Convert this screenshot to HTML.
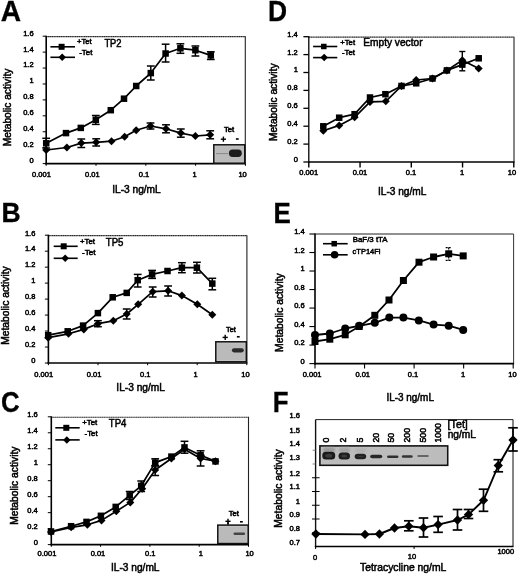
<!DOCTYPE html>
<html><head><meta charset="utf-8"><style>html,body{margin:0;padding:0;background:#fff;width:520px;height:575px;overflow:hidden}svg{display:block;filter:blur(0.4px)}</style></head><body>
<svg width="520" height="575" viewBox="0 0 520 575" font-family='"Liberation Sans", sans-serif' fill="#000">
<style>text{stroke:#000;stroke-width:0.5px;paint-order:stroke}text[font-weight=bold]{stroke-width:0.3px}</style>
<rect width="520" height="575" fill="#fff"/>
<text x="0" y="0" font-size="28.582" font-weight="bold" transform="translate(0.85,21.20) scale(0.984,1)">A</text>
<line x1="46.20" y1="36.60" x2="245.30" y2="36.60" stroke="#2a2a2a" stroke-width="1.1" stroke-dasharray="1.5 0.3"/>
<line x1="245.30" y1="36.20" x2="245.30" y2="163.60" stroke="#222" stroke-width="1.1" />
<line x1="46.20" y1="35.70" x2="46.20" y2="164.40" stroke="#000" stroke-width="1.6" />
<line x1="45.40" y1="163.60" x2="245.80" y2="163.60" stroke="#000" stroke-width="1.6" />
<line x1="42.70" y1="163.60" x2="46.20" y2="163.60" stroke="#000" stroke-width="1.0" />
<line x1="42.70" y1="147.67" x2="46.20" y2="147.67" stroke="#000" stroke-width="1.0" />
<line x1="42.70" y1="131.75" x2="46.20" y2="131.75" stroke="#000" stroke-width="1.0" />
<line x1="42.70" y1="115.82" x2="46.20" y2="115.82" stroke="#000" stroke-width="1.0" />
<line x1="42.70" y1="99.90" x2="46.20" y2="99.90" stroke="#000" stroke-width="1.0" />
<line x1="42.70" y1="83.97" x2="46.20" y2="83.97" stroke="#000" stroke-width="1.0" />
<line x1="42.70" y1="68.05" x2="46.20" y2="68.05" stroke="#000" stroke-width="1.0" />
<line x1="42.70" y1="52.12" x2="46.20" y2="52.12" stroke="#000" stroke-width="1.0" />
<line x1="42.70" y1="36.20" x2="46.20" y2="36.20" stroke="#000" stroke-width="1.0" />
<text x="33.60" y="163.00" font-size="7.5" text-anchor="end" font-weight="normal" >0</text>
<text x="33.60" y="147.07" font-size="7.5" text-anchor="end" font-weight="normal" >0.2</text>
<text x="33.60" y="131.15" font-size="7.5" text-anchor="end" font-weight="normal" >0.4</text>
<text x="33.60" y="115.22" font-size="7.5" text-anchor="end" font-weight="normal" >0.6</text>
<text x="33.60" y="99.30" font-size="7.5" text-anchor="end" font-weight="normal" >0.8</text>
<text x="33.60" y="83.38" font-size="7.5" text-anchor="end" font-weight="normal" >1</text>
<text x="33.60" y="67.45" font-size="7.5" text-anchor="end" font-weight="normal" >1.2</text>
<text x="33.60" y="51.53" font-size="7.5" text-anchor="end" font-weight="normal" >1.4</text>
<text x="33.60" y="35.60" font-size="7.5" text-anchor="end" font-weight="normal" >1.6</text>
<line x1="46.20" y1="163.60" x2="46.20" y2="165.80" stroke="#000" stroke-width="1.0" />
<text x="41.50" y="176.90" font-size="7.5" text-anchor="middle" font-weight="normal" >0.001</text>
<line x1="96.00" y1="163.60" x2="96.00" y2="165.80" stroke="#000" stroke-width="1.0" />
<text x="92.30" y="176.90" font-size="7.5" text-anchor="middle" font-weight="normal" >0.01</text>
<line x1="145.80" y1="163.60" x2="145.80" y2="165.80" stroke="#000" stroke-width="1.0" />
<text x="144.00" y="176.90" font-size="7.5" text-anchor="middle" font-weight="normal" >0.1</text>
<line x1="195.60" y1="163.60" x2="195.60" y2="165.80" stroke="#000" stroke-width="1.0" />
<text x="194.60" y="176.90" font-size="7.5" text-anchor="middle" font-weight="normal" >1</text>
<line x1="245.40" y1="163.60" x2="245.40" y2="165.80" stroke="#000" stroke-width="1.0" />
<text x="242.60" y="176.90" font-size="7.5" text-anchor="middle" font-weight="normal" >10</text>
<text x="0" y="0" font-size="10.100" font-weight="normal" transform="translate(112.16,192.60) scale(1.006,1)">IL-3 ng/mL</text>
<text x="0" y="0" font-size="10.100" font-weight="normal" transform="translate(10.50,146.24) rotate(-90) scale(1.010,1)">Metabolic activity</text>
<line x1="50.40" y1="46.80" x2="75.00" y2="46.80" stroke="#000" stroke-width="1.6" />
<rect x="58.60" y="43.80" width="6" height="6" fill="#000"/>
<line x1="50.40" y1="57.30" x2="75.00" y2="57.30" stroke="#000" stroke-width="1.6" />
<path d="M62.20 53.55L65.95 57.30L62.20 61.05L58.45 57.30Z" fill="#000"/>
<text x="0" y="0" font-size="7.300" font-weight="normal" transform="translate(77.02,44.10) scale(1.046,1)">+Tet</text>
<text x="0" y="0" font-size="7.300" font-weight="normal" transform="translate(79.25,54.90) scale(1.077,1)">-Tet</text>
<text x="0" y="0" font-size="10.000" font-weight="normal" transform="translate(104.39,47.20) scale(0.937,1)">TP2</text>
<polyline points="46.20,143.30 66.00,133.10 80.80,127.90 95.80,119.80 110.80,110.20 124.00,98.70 136.20,86.00 150.80,73.10 165.60,53.50 180.40,48.30 195.40,50.20 210.80,55.40" fill="none" stroke="#000" stroke-width="1.7" stroke-linejoin="round"/>
<line x1="46.20" y1="138.30" x2="46.20" y2="148.00" stroke="#000" stroke-width="1.5" />
<line x1="42.30" y1="138.30" x2="50.10" y2="138.30" stroke="#000" stroke-width="1.5" />
<line x1="42.30" y1="148.00" x2="50.10" y2="148.00" stroke="#000" stroke-width="1.5" />
<line x1="95.80" y1="115.50" x2="95.80" y2="124.40" stroke="#000" stroke-width="1.5" />
<line x1="91.90" y1="115.50" x2="99.70" y2="115.50" stroke="#000" stroke-width="1.5" />
<line x1="91.90" y1="124.40" x2="99.70" y2="124.40" stroke="#000" stroke-width="1.5" />
<line x1="150.80" y1="66.00" x2="150.80" y2="80.00" stroke="#000" stroke-width="1.5" />
<line x1="146.90" y1="66.00" x2="154.70" y2="66.00" stroke="#000" stroke-width="1.5" />
<line x1="146.90" y1="80.00" x2="154.70" y2="80.00" stroke="#000" stroke-width="1.5" />
<line x1="165.60" y1="44.20" x2="165.60" y2="62.00" stroke="#000" stroke-width="1.5" />
<line x1="161.70" y1="44.20" x2="169.50" y2="44.20" stroke="#000" stroke-width="1.5" />
<line x1="161.70" y1="62.00" x2="169.50" y2="62.00" stroke="#000" stroke-width="1.5" />
<line x1="180.40" y1="43.80" x2="180.40" y2="53.30" stroke="#000" stroke-width="1.5" />
<line x1="176.50" y1="43.80" x2="184.30" y2="43.80" stroke="#000" stroke-width="1.5" />
<line x1="176.50" y1="53.30" x2="184.30" y2="53.30" stroke="#000" stroke-width="1.5" />
<line x1="195.40" y1="46.00" x2="195.40" y2="56.00" stroke="#000" stroke-width="1.5" />
<line x1="191.50" y1="46.00" x2="199.30" y2="46.00" stroke="#000" stroke-width="1.5" />
<line x1="191.50" y1="56.00" x2="199.30" y2="56.00" stroke="#000" stroke-width="1.5" />
<line x1="210.80" y1="51.80" x2="210.80" y2="59.50" stroke="#000" stroke-width="1.5" />
<line x1="206.90" y1="51.80" x2="214.70" y2="51.80" stroke="#000" stroke-width="1.5" />
<line x1="206.90" y1="59.50" x2="214.70" y2="59.50" stroke="#000" stroke-width="1.5" />
<rect x="42.95" y="140.05" width="6.5" height="6.5" fill="#000"/>
<rect x="62.75" y="129.85" width="6.5" height="6.5" fill="#000"/>
<rect x="77.55" y="124.65" width="6.5" height="6.5" fill="#000"/>
<rect x="92.55" y="116.55" width="6.5" height="6.5" fill="#000"/>
<rect x="107.55" y="106.95" width="6.5" height="6.5" fill="#000"/>
<rect x="120.75" y="95.45" width="6.5" height="6.5" fill="#000"/>
<rect x="132.95" y="82.75" width="6.5" height="6.5" fill="#000"/>
<rect x="147.55" y="69.85" width="6.5" height="6.5" fill="#000"/>
<rect x="162.35" y="50.25" width="6.5" height="6.5" fill="#000"/>
<rect x="177.15" y="45.05" width="6.5" height="6.5" fill="#000"/>
<rect x="192.15" y="46.95" width="6.5" height="6.5" fill="#000"/>
<rect x="207.55" y="52.15" width="6.5" height="6.5" fill="#000"/>
<polyline points="46.20,150.00 66.90,147.50 81.30,143.10 96.20,142.30 111.50,141.20 124.60,136.80 136.20,130.30 150.50,126.00 166.00,128.80 180.80,133.10 195.40,136.00 210.20,134.80" fill="none" stroke="#000" stroke-width="1.7" stroke-linejoin="round"/>
<line x1="81.30" y1="139.00" x2="81.30" y2="147.50" stroke="#000" stroke-width="1.5" />
<line x1="77.40" y1="139.00" x2="85.20" y2="139.00" stroke="#000" stroke-width="1.5" />
<line x1="77.40" y1="147.50" x2="85.20" y2="147.50" stroke="#000" stroke-width="1.5" />
<line x1="96.20" y1="138.80" x2="96.20" y2="146.00" stroke="#000" stroke-width="1.5" />
<line x1="92.30" y1="138.80" x2="100.10" y2="138.80" stroke="#000" stroke-width="1.5" />
<line x1="92.30" y1="146.00" x2="100.10" y2="146.00" stroke="#000" stroke-width="1.5" />
<line x1="150.50" y1="123.00" x2="150.50" y2="129.00" stroke="#000" stroke-width="1.5" />
<line x1="146.60" y1="123.00" x2="154.40" y2="123.00" stroke="#000" stroke-width="1.5" />
<line x1="146.60" y1="129.00" x2="154.40" y2="129.00" stroke="#000" stroke-width="1.5" />
<line x1="166.00" y1="124.80" x2="166.00" y2="132.80" stroke="#000" stroke-width="1.5" />
<line x1="162.10" y1="124.80" x2="169.90" y2="124.80" stroke="#000" stroke-width="1.5" />
<line x1="162.10" y1="132.80" x2="169.90" y2="132.80" stroke="#000" stroke-width="1.5" />
<line x1="180.80" y1="129.00" x2="180.80" y2="137.20" stroke="#000" stroke-width="1.5" />
<line x1="176.90" y1="129.00" x2="184.70" y2="129.00" stroke="#000" stroke-width="1.5" />
<line x1="176.90" y1="137.20" x2="184.70" y2="137.20" stroke="#000" stroke-width="1.5" />
<line x1="210.20" y1="130.80" x2="210.20" y2="138.80" stroke="#000" stroke-width="1.5" />
<line x1="206.30" y1="130.80" x2="214.10" y2="130.80" stroke="#000" stroke-width="1.5" />
<line x1="206.30" y1="138.80" x2="214.10" y2="138.80" stroke="#000" stroke-width="1.5" />
<path d="M46.20 146.00L50.20 150.00L46.20 154.00L42.20 150.00Z" fill="#000"/>
<path d="M66.90 143.50L70.90 147.50L66.90 151.50L62.90 147.50Z" fill="#000"/>
<path d="M81.30 139.10L85.30 143.10L81.30 147.10L77.30 143.10Z" fill="#000"/>
<path d="M96.20 138.30L100.20 142.30L96.20 146.30L92.20 142.30Z" fill="#000"/>
<path d="M111.50 137.20L115.50 141.20L111.50 145.20L107.50 141.20Z" fill="#000"/>
<path d="M124.60 132.80L128.60 136.80L124.60 140.80L120.60 136.80Z" fill="#000"/>
<path d="M136.20 126.30L140.20 130.30L136.20 134.30L132.20 130.30Z" fill="#000"/>
<path d="M150.50 122.00L154.50 126.00L150.50 130.00L146.50 126.00Z" fill="#000"/>
<path d="M166.00 124.80L170.00 128.80L166.00 132.80L162.00 128.80Z" fill="#000"/>
<path d="M180.80 129.10L184.80 133.10L180.80 137.10L176.80 133.10Z" fill="#000"/>
<path d="M195.40 132.00L199.40 136.00L195.40 140.00L191.40 136.00Z" fill="#000"/>
<path d="M210.20 130.80L214.20 134.80L210.20 138.80L206.20 134.80Z" fill="#000"/>
<text x="0" y="0" font-size="6.308" font-weight="normal" transform="translate(224.03,132.44) scale(1.205,1)">Tet</text>
<line x1="220.80" y1="139.20" x2="226.00" y2="139.20" stroke="#000" stroke-width="1.4" />
<line x1="223.40" y1="136.60" x2="223.40" y2="141.80" stroke="#000" stroke-width="1.4" />
<line x1="235.90" y1="139.00" x2="238.70" y2="139.00" stroke="#000" stroke-width="1.5999999999999999" />
<rect x="213.80" y="144.80" width="30.90" height="18.40" fill="#c8c8c8" stroke="#111" stroke-width="1.5"/>
<rect x="215.40" y="146.40" width="27.70" height="15.20" fill="#bababa"/>
<rect x="228.90" y="149.60" width="12.90" height="7.30" rx="3.65" fill="#1c1c1c"/>
<line x1="216.00" y1="153.60" x2="228.00" y2="153.60" stroke="#888" stroke-width="1.0" />
<text x="0" y="0" font-size="28.364" font-weight="bold" transform="translate(1.51,221.80) scale(0.936,1)">B</text>
<line x1="48.40" y1="235.60" x2="246.90" y2="235.60" stroke="#2a2a2a" stroke-width="1.1" stroke-dasharray="1.5 0.3"/>
<line x1="246.90" y1="235.20" x2="246.90" y2="363.00" stroke="#222" stroke-width="1.1" />
<line x1="48.40" y1="234.70" x2="48.40" y2="363.80" stroke="#000" stroke-width="1.6" />
<line x1="47.60" y1="363.00" x2="247.40" y2="363.00" stroke="#000" stroke-width="1.6" />
<line x1="44.90" y1="363.00" x2="48.40" y2="363.00" stroke="#000" stroke-width="1.0" />
<line x1="44.90" y1="347.02" x2="48.40" y2="347.02" stroke="#000" stroke-width="1.0" />
<line x1="44.90" y1="331.05" x2="48.40" y2="331.05" stroke="#000" stroke-width="1.0" />
<line x1="44.90" y1="315.07" x2="48.40" y2="315.07" stroke="#000" stroke-width="1.0" />
<line x1="44.90" y1="299.10" x2="48.40" y2="299.10" stroke="#000" stroke-width="1.0" />
<line x1="44.90" y1="283.12" x2="48.40" y2="283.12" stroke="#000" stroke-width="1.0" />
<line x1="44.90" y1="267.15" x2="48.40" y2="267.15" stroke="#000" stroke-width="1.0" />
<line x1="44.90" y1="251.17" x2="48.40" y2="251.17" stroke="#000" stroke-width="1.0" />
<line x1="44.90" y1="235.20" x2="48.40" y2="235.20" stroke="#000" stroke-width="1.0" />
<text x="35.40" y="363.30" font-size="7.5" text-anchor="end" font-weight="normal" >0</text>
<text x="35.40" y="347.32" font-size="7.5" text-anchor="end" font-weight="normal" >0.2</text>
<text x="35.40" y="331.35" font-size="7.5" text-anchor="end" font-weight="normal" >0.4</text>
<text x="35.40" y="315.38" font-size="7.5" text-anchor="end" font-weight="normal" >0.6</text>
<text x="35.40" y="299.40" font-size="7.5" text-anchor="end" font-weight="normal" >0.8</text>
<text x="35.40" y="283.43" font-size="7.5" text-anchor="end" font-weight="normal" >1</text>
<text x="35.40" y="267.45" font-size="7.5" text-anchor="end" font-weight="normal" >1.2</text>
<text x="35.40" y="251.47" font-size="7.5" text-anchor="end" font-weight="normal" >1.4</text>
<text x="35.40" y="235.50" font-size="7.5" text-anchor="end" font-weight="normal" >1.6</text>
<line x1="48.40" y1="363.00" x2="48.40" y2="365.20" stroke="#000" stroke-width="1.0" />
<text x="43.70" y="376.50" font-size="7.5" text-anchor="middle" font-weight="normal" >0.001</text>
<line x1="98.00" y1="363.00" x2="98.00" y2="365.20" stroke="#000" stroke-width="1.0" />
<text x="94.10" y="376.50" font-size="7.5" text-anchor="middle" font-weight="normal" >0.01</text>
<line x1="147.60" y1="363.00" x2="147.60" y2="365.20" stroke="#000" stroke-width="1.0" />
<text x="145.20" y="376.50" font-size="7.5" text-anchor="middle" font-weight="normal" >0.1</text>
<line x1="197.20" y1="363.00" x2="197.20" y2="365.20" stroke="#000" stroke-width="1.0" />
<text x="195.60" y="376.50" font-size="7.5" text-anchor="middle" font-weight="normal" >1</text>
<line x1="246.80" y1="363.00" x2="246.80" y2="365.20" stroke="#000" stroke-width="1.0" />
<text x="245.40" y="376.50" font-size="7.5" text-anchor="middle" font-weight="normal" >10</text>
<text x="0" y="0" font-size="10.100" font-weight="normal" transform="translate(116.36,391.40) scale(1.006,1)">IL-3 ng/mL</text>
<text x="0" y="0" font-size="10.100" font-weight="normal" transform="translate(8.70,344.85) rotate(-90) scale(1.023,1)">Metabolic activity</text>
<line x1="53.70" y1="246.30" x2="77.70" y2="246.30" stroke="#000" stroke-width="1.6" />
<rect x="60.70" y="243.30" width="6" height="6" fill="#000"/>
<line x1="53.70" y1="258.30" x2="77.70" y2="258.30" stroke="#000" stroke-width="1.6" />
<path d="M65.20 254.55L68.95 258.30L65.20 262.05L61.45 258.30Z" fill="#000"/>
<text x="0" y="0" font-size="7.300" font-weight="normal" transform="translate(80.01,244.00) scale(1.075,1)">+Tet</text>
<text x="0" y="0" font-size="7.300" font-weight="normal" transform="translate(81.93,254.60) scale(1.128,1)">-Tet</text>
<text x="0" y="0" font-size="10.300" font-weight="normal" transform="translate(105.78,245.90) scale(0.938,1)">TP5</text>
<polyline points="48.20,335.20 67.70,331.30 83.10,325.60 97.90,313.10 112.70,297.30 126.70,292.90 137.70,280.20 152.10,274.40 167.50,271.00 181.90,267.70 196.90,267.70 212.30,283.60" fill="none" stroke="#000" stroke-width="1.7" stroke-linejoin="round"/>
<line x1="137.70" y1="274.40" x2="137.70" y2="287.00" stroke="#000" stroke-width="1.5" />
<line x1="133.80" y1="274.40" x2="141.60" y2="274.40" stroke="#000" stroke-width="1.5" />
<line x1="133.80" y1="287.00" x2="141.60" y2="287.00" stroke="#000" stroke-width="1.5" />
<line x1="152.10" y1="270.40" x2="152.10" y2="278.40" stroke="#000" stroke-width="1.5" />
<line x1="148.20" y1="270.40" x2="156.00" y2="270.40" stroke="#000" stroke-width="1.5" />
<line x1="148.20" y1="278.40" x2="156.00" y2="278.40" stroke="#000" stroke-width="1.5" />
<line x1="181.90" y1="262.70" x2="181.90" y2="272.70" stroke="#000" stroke-width="1.5" />
<line x1="178.00" y1="262.70" x2="185.80" y2="262.70" stroke="#000" stroke-width="1.5" />
<line x1="178.00" y1="272.70" x2="185.80" y2="272.70" stroke="#000" stroke-width="1.5" />
<line x1="196.90" y1="262.30" x2="196.90" y2="273.00" stroke="#000" stroke-width="1.5" />
<line x1="193.00" y1="262.30" x2="200.80" y2="262.30" stroke="#000" stroke-width="1.5" />
<line x1="193.00" y1="273.00" x2="200.80" y2="273.00" stroke="#000" stroke-width="1.5" />
<line x1="212.30" y1="278.30" x2="212.30" y2="289.80" stroke="#000" stroke-width="1.5" />
<line x1="208.40" y1="278.30" x2="216.20" y2="278.30" stroke="#000" stroke-width="1.5" />
<line x1="208.40" y1="289.80" x2="216.20" y2="289.80" stroke="#000" stroke-width="1.5" />
<rect x="44.95" y="331.95" width="6.5" height="6.5" fill="#000"/>
<rect x="64.45" y="328.05" width="6.5" height="6.5" fill="#000"/>
<rect x="79.85" y="322.35" width="6.5" height="6.5" fill="#000"/>
<rect x="94.65" y="309.85" width="6.5" height="6.5" fill="#000"/>
<rect x="109.45" y="294.05" width="6.5" height="6.5" fill="#000"/>
<rect x="123.45" y="289.65" width="6.5" height="6.5" fill="#000"/>
<rect x="134.45" y="276.95" width="6.5" height="6.5" fill="#000"/>
<rect x="148.85" y="271.15" width="6.5" height="6.5" fill="#000"/>
<rect x="164.25" y="267.75" width="6.5" height="6.5" fill="#000"/>
<rect x="178.65" y="264.45" width="6.5" height="6.5" fill="#000"/>
<rect x="193.65" y="264.45" width="6.5" height="6.5" fill="#000"/>
<rect x="209.05" y="280.35" width="6.5" height="6.5" fill="#000"/>
<polyline points="48.20,337.70 68.50,333.80 83.80,329.40 97.90,323.70 113.30,320.80 126.70,314.00 138.20,304.30 152.70,291.70 168.10,290.80 181.90,295.60 197.30,304.20 212.30,314.80" fill="none" stroke="#000" stroke-width="1.7" stroke-linejoin="round"/>
<line x1="97.90" y1="320.70" x2="97.90" y2="326.70" stroke="#000" stroke-width="1.5" />
<line x1="94.00" y1="320.70" x2="101.80" y2="320.70" stroke="#000" stroke-width="1.5" />
<line x1="94.00" y1="326.70" x2="101.80" y2="326.70" stroke="#000" stroke-width="1.5" />
<line x1="126.70" y1="309.00" x2="126.70" y2="319.00" stroke="#000" stroke-width="1.5" />
<line x1="122.80" y1="309.00" x2="130.60" y2="309.00" stroke="#000" stroke-width="1.5" />
<line x1="122.80" y1="319.00" x2="130.60" y2="319.00" stroke="#000" stroke-width="1.5" />
<line x1="152.70" y1="287.00" x2="152.70" y2="297.00" stroke="#000" stroke-width="1.5" />
<line x1="148.80" y1="287.00" x2="156.60" y2="287.00" stroke="#000" stroke-width="1.5" />
<line x1="148.80" y1="297.00" x2="156.60" y2="297.00" stroke="#000" stroke-width="1.5" />
<line x1="168.10" y1="286.00" x2="168.10" y2="296.00" stroke="#000" stroke-width="1.5" />
<line x1="164.20" y1="286.00" x2="172.00" y2="286.00" stroke="#000" stroke-width="1.5" />
<line x1="164.20" y1="296.00" x2="172.00" y2="296.00" stroke="#000" stroke-width="1.5" />
<path d="M48.20 333.70L52.20 337.70L48.20 341.70L44.20 337.70Z" fill="#000"/>
<path d="M68.50 329.80L72.50 333.80L68.50 337.80L64.50 333.80Z" fill="#000"/>
<path d="M83.80 325.40L87.80 329.40L83.80 333.40L79.80 329.40Z" fill="#000"/>
<path d="M97.90 319.70L101.90 323.70L97.90 327.70L93.90 323.70Z" fill="#000"/>
<path d="M113.30 316.80L117.30 320.80L113.30 324.80L109.30 320.80Z" fill="#000"/>
<path d="M126.70 310.00L130.70 314.00L126.70 318.00L122.70 314.00Z" fill="#000"/>
<path d="M138.20 300.30L142.20 304.30L138.20 308.30L134.20 304.30Z" fill="#000"/>
<path d="M152.70 287.70L156.70 291.70L152.70 295.70L148.70 291.70Z" fill="#000"/>
<path d="M168.10 286.80L172.10 290.80L168.10 294.80L164.10 290.80Z" fill="#000"/>
<path d="M181.90 291.60L185.90 295.60L181.90 299.60L177.90 295.60Z" fill="#000"/>
<path d="M197.30 300.20L201.30 304.20L197.30 308.20L193.30 304.20Z" fill="#000"/>
<path d="M212.30 310.80L216.30 314.80L212.30 318.80L208.30 314.80Z" fill="#000"/>
<text x="0" y="0" font-size="6.882" font-weight="normal" transform="translate(226.03,332.13) scale(1.071,1)">Tet</text>
<line x1="222.60" y1="337.40" x2="227.80" y2="337.40" stroke="#000" stroke-width="1.4" />
<line x1="225.20" y1="334.80" x2="225.20" y2="340.00" stroke="#000" stroke-width="1.4" />
<line x1="236.90" y1="336.80" x2="239.70" y2="336.80" stroke="#000" stroke-width="1.5999999999999999" />
<rect x="215.80" y="341.80" width="30.50" height="20.00" fill="#c8c8c8" stroke="#111" stroke-width="1.5"/>
<rect x="217.40" y="343.40" width="27.30" height="16.80" fill="#bababa"/>
<rect x="231.90" y="348.20" width="11.90" height="4.20" rx="2.10" fill="#2a2a2a"/>
<text x="0" y="0" font-size="28.834" font-weight="bold" transform="translate(0.97,412.41) scale(0.895,1)">C</text>
<line x1="51.30" y1="417.20" x2="248.50" y2="417.20" stroke="#2a2a2a" stroke-width="1.1" stroke-dasharray="1.5 0.3"/>
<line x1="248.50" y1="416.80" x2="248.50" y2="544.60" stroke="#222" stroke-width="1.1" />
<line x1="51.30" y1="416.30" x2="51.30" y2="545.40" stroke="#000" stroke-width="1.6" />
<line x1="50.50" y1="544.60" x2="249.00" y2="544.60" stroke="#000" stroke-width="1.6" />
<line x1="47.80" y1="544.60" x2="51.30" y2="544.60" stroke="#000" stroke-width="1.0" />
<line x1="47.80" y1="528.62" x2="51.30" y2="528.62" stroke="#000" stroke-width="1.0" />
<line x1="47.80" y1="512.65" x2="51.30" y2="512.65" stroke="#000" stroke-width="1.0" />
<line x1="47.80" y1="496.68" x2="51.30" y2="496.68" stroke="#000" stroke-width="1.0" />
<line x1="47.80" y1="480.70" x2="51.30" y2="480.70" stroke="#000" stroke-width="1.0" />
<line x1="47.80" y1="464.73" x2="51.30" y2="464.73" stroke="#000" stroke-width="1.0" />
<line x1="47.80" y1="448.75" x2="51.30" y2="448.75" stroke="#000" stroke-width="1.0" />
<line x1="47.80" y1="432.77" x2="51.30" y2="432.77" stroke="#000" stroke-width="1.0" />
<line x1="47.80" y1="416.80" x2="51.30" y2="416.80" stroke="#000" stroke-width="1.0" />
<text x="37.80" y="544.70" font-size="7.5" text-anchor="end" font-weight="normal" >0</text>
<text x="37.80" y="528.73" font-size="7.5" text-anchor="end" font-weight="normal" >0.2</text>
<text x="37.80" y="512.75" font-size="7.5" text-anchor="end" font-weight="normal" >0.4</text>
<text x="37.80" y="496.77" font-size="7.5" text-anchor="end" font-weight="normal" >0.6</text>
<text x="37.80" y="480.80" font-size="7.5" text-anchor="end" font-weight="normal" >0.8</text>
<text x="37.80" y="464.82" font-size="7.5" text-anchor="end" font-weight="normal" >1</text>
<text x="37.80" y="448.85" font-size="7.5" text-anchor="end" font-weight="normal" >1.2</text>
<text x="37.80" y="432.87" font-size="7.5" text-anchor="end" font-weight="normal" >1.4</text>
<text x="37.80" y="416.90" font-size="7.5" text-anchor="end" font-weight="normal" >1.6</text>
<line x1="51.30" y1="544.60" x2="51.30" y2="546.80" stroke="#000" stroke-width="1.0" />
<text x="47.00" y="556.10" font-size="7.5" text-anchor="middle" font-weight="normal" >0.001</text>
<line x1="100.60" y1="544.60" x2="100.60" y2="546.80" stroke="#000" stroke-width="1.0" />
<text x="98.00" y="556.10" font-size="7.5" text-anchor="middle" font-weight="normal" >0.01</text>
<line x1="149.90" y1="544.60" x2="149.90" y2="546.80" stroke="#000" stroke-width="1.0" />
<text x="150.30" y="556.10" font-size="7.5" text-anchor="middle" font-weight="normal" >0.1</text>
<line x1="199.20" y1="544.60" x2="199.20" y2="546.80" stroke="#000" stroke-width="1.0" />
<text x="200.80" y="556.10" font-size="7.5" text-anchor="middle" font-weight="normal" >1</text>
<line x1="248.50" y1="544.60" x2="248.50" y2="546.80" stroke="#000" stroke-width="1.0" />
<text x="249.60" y="556.10" font-size="7.5" text-anchor="middle" font-weight="normal" >10</text>
<text x="0" y="0" font-size="10.100" font-weight="normal" transform="translate(110.96,570.50) scale(1.006,1)">IL-3 ng/mL</text>
<text x="0" y="0" font-size="10.100" font-weight="normal" transform="translate(17.90,524.85) rotate(-90) scale(1.019,1)">Metabolic activity</text>
<line x1="55.30" y1="427.80" x2="79.70" y2="427.80" stroke="#000" stroke-width="1.6" />
<rect x="63.30" y="424.80" width="6" height="6" fill="#000"/>
<line x1="55.30" y1="439.90" x2="79.70" y2="439.90" stroke="#000" stroke-width="1.6" />
<path d="M66.80 436.15L70.55 439.90L66.80 443.65L63.05 439.90Z" fill="#000"/>
<text x="0" y="0" font-size="7.300" font-weight="normal" transform="translate(82.21,425.40) scale(1.075,1)">+Tet</text>
<text x="0" y="0" font-size="7.300" font-weight="normal" transform="translate(84.55,436.20) scale(1.077,1)">-Tet</text>
<text x="0" y="0" font-size="10.300" font-weight="normal" transform="translate(108.78,427.00) scale(0.931,1)">TP4</text>
<polyline points="51.00,531.50 71.10,526.20 86.50,521.90 100.90,515.80 115.70,506.90 129.70,495.40 141.20,485.80 155.20,462.60 171.40,456.60 184.50,447.40 200.60,455.20 215.50,461.40" fill="none" stroke="#000" stroke-width="1.7" stroke-linejoin="round"/>
<line x1="129.70" y1="491.50" x2="129.70" y2="499.50" stroke="#000" stroke-width="1.5" />
<line x1="125.80" y1="491.50" x2="133.60" y2="491.50" stroke="#000" stroke-width="1.5" />
<line x1="125.80" y1="499.50" x2="133.60" y2="499.50" stroke="#000" stroke-width="1.5" />
<line x1="141.20" y1="481.00" x2="141.20" y2="491.50" stroke="#000" stroke-width="1.5" />
<line x1="137.30" y1="481.00" x2="145.10" y2="481.00" stroke="#000" stroke-width="1.5" />
<line x1="137.30" y1="491.50" x2="145.10" y2="491.50" stroke="#000" stroke-width="1.5" />
<line x1="155.20" y1="458.80" x2="155.20" y2="465.60" stroke="#000" stroke-width="1.5" />
<line x1="151.30" y1="458.80" x2="159.10" y2="458.80" stroke="#000" stroke-width="1.5" />
<line x1="151.30" y1="465.60" x2="159.10" y2="465.60" stroke="#000" stroke-width="1.5" />
<line x1="184.50" y1="441.30" x2="184.50" y2="453.20" stroke="#000" stroke-width="1.5" />
<line x1="180.60" y1="441.30" x2="188.40" y2="441.30" stroke="#000" stroke-width="1.5" />
<line x1="180.60" y1="453.20" x2="188.40" y2="453.20" stroke="#000" stroke-width="1.5" />
<line x1="200.60" y1="450.80" x2="200.60" y2="455.20" stroke="#000" stroke-width="1.5" />
<line x1="196.70" y1="450.80" x2="204.50" y2="450.80" stroke="#000" stroke-width="1.5" />
<line x1="196.70" y1="455.20" x2="204.50" y2="455.20" stroke="#000" stroke-width="1.5" />
<rect x="47.75" y="528.25" width="6.5" height="6.5" fill="#000"/>
<rect x="67.85" y="522.95" width="6.5" height="6.5" fill="#000"/>
<rect x="83.25" y="518.65" width="6.5" height="6.5" fill="#000"/>
<rect x="97.65" y="512.55" width="6.5" height="6.5" fill="#000"/>
<rect x="112.45" y="503.65" width="6.5" height="6.5" fill="#000"/>
<rect x="126.45" y="492.15" width="6.5" height="6.5" fill="#000"/>
<rect x="137.95" y="482.55" width="6.5" height="6.5" fill="#000"/>
<rect x="151.95" y="459.35" width="6.5" height="6.5" fill="#000"/>
<rect x="168.15" y="453.35" width="6.5" height="6.5" fill="#000"/>
<rect x="181.25" y="444.15" width="6.5" height="6.5" fill="#000"/>
<rect x="197.35" y="451.95" width="6.5" height="6.5" fill="#000"/>
<rect x="212.25" y="458.15" width="6.5" height="6.5" fill="#000"/>
<polyline points="51.00,532.00 71.10,527.30 87.40,524.80 101.50,520.40 116.30,511.30 130.30,502.40 142.20,488.80 155.20,470.00 171.40,458.50 184.50,449.20 200.60,458.50 215.50,461.20" fill="none" stroke="#000" stroke-width="1.7" stroke-linejoin="round"/>
<line x1="155.20" y1="466.00" x2="155.20" y2="475.50" stroke="#000" stroke-width="1.5" />
<line x1="151.30" y1="466.00" x2="159.10" y2="466.00" stroke="#000" stroke-width="1.5" />
<line x1="151.30" y1="475.50" x2="159.10" y2="475.50" stroke="#000" stroke-width="1.5" />
<line x1="200.60" y1="456.00" x2="200.60" y2="466.00" stroke="#000" stroke-width="1.5" />
<line x1="196.70" y1="456.00" x2="204.50" y2="456.00" stroke="#000" stroke-width="1.5" />
<line x1="196.70" y1="466.00" x2="204.50" y2="466.00" stroke="#000" stroke-width="1.5" />
<path d="M51.00 528.00L55.00 532.00L51.00 536.00L47.00 532.00Z" fill="#000"/>
<path d="M71.10 523.30L75.10 527.30L71.10 531.30L67.10 527.30Z" fill="#000"/>
<path d="M87.40 520.80L91.40 524.80L87.40 528.80L83.40 524.80Z" fill="#000"/>
<path d="M101.50 516.40L105.50 520.40L101.50 524.40L97.50 520.40Z" fill="#000"/>
<path d="M116.30 507.30L120.30 511.30L116.30 515.30L112.30 511.30Z" fill="#000"/>
<path d="M130.30 498.40L134.30 502.40L130.30 506.40L126.30 502.40Z" fill="#000"/>
<path d="M142.20 484.80L146.20 488.80L142.20 492.80L138.20 488.80Z" fill="#000"/>
<path d="M155.20 466.00L159.20 470.00L155.20 474.00L151.20 470.00Z" fill="#000"/>
<path d="M171.40 454.50L175.40 458.50L171.40 462.50L167.40 458.50Z" fill="#000"/>
<path d="M184.50 445.20L188.50 449.20L184.50 453.20L180.50 449.20Z" fill="#000"/>
<path d="M200.60 454.50L204.60 458.50L200.60 462.50L196.60 458.50Z" fill="#000"/>
<path d="M215.50 457.20L219.50 461.20L215.50 465.20L211.50 461.20Z" fill="#000"/>
<text x="0" y="0" font-size="6.595" font-weight="normal" transform="translate(228.73,515.53) scale(1.164,1)">Tet</text>
<line x1="225.40" y1="521.30" x2="230.60" y2="521.30" stroke="#000" stroke-width="1.4" />
<line x1="228.00" y1="518.70" x2="228.00" y2="523.90" stroke="#000" stroke-width="1.4" />
<line x1="240.00" y1="521.80" x2="242.80" y2="521.80" stroke="#000" stroke-width="1.5999999999999999" />
<line x1="228.00" y1="521.30" x2="228.00" y2="525.00" stroke="#000" stroke-width="1.4" />
<rect x="217.80" y="525.10" width="30.40" height="18.40" fill="#c8c8c8" stroke="#111" stroke-width="1.5"/>
<rect x="219.40" y="526.70" width="27.20" height="15.20" fill="#bababa"/>
<rect x="233.50" y="532.50" width="11.60" height="2.60" rx="1.30" fill="#444"/>
<text x="0" y="0" font-size="28.582" font-weight="bold" transform="translate(268.11,21.20) scale(0.925,1)">D</text>
<line x1="308.80" y1="37.10" x2="514.00" y2="37.10" stroke="#2a2a2a" stroke-width="1.1" stroke-dasharray="1.5 0.3"/>
<line x1="514.00" y1="36.70" x2="514.00" y2="162.00" stroke="#222" stroke-width="1.1" />
<line x1="308.80" y1="36.20" x2="308.80" y2="162.80" stroke="#000" stroke-width="1.3" />
<line x1="308.00" y1="162.00" x2="514.50" y2="162.00" stroke="#000" stroke-width="1.3" />
<line x1="303.40" y1="162.00" x2="308.80" y2="162.00" stroke="#000" stroke-width="1.3" />
<text x="297.80" y="161.90" font-size="7.5" text-anchor="end" font-weight="normal" >0</text>
<line x1="303.40" y1="144.10" x2="308.80" y2="144.10" stroke="#000" stroke-width="1.3" />
<text x="297.80" y="144.00" font-size="7.5" text-anchor="end" font-weight="normal" >0.2</text>
<line x1="303.40" y1="126.20" x2="308.80" y2="126.20" stroke="#000" stroke-width="1.3" />
<text x="297.80" y="126.10" font-size="7.5" text-anchor="end" font-weight="normal" >0.4</text>
<line x1="303.40" y1="108.30" x2="308.80" y2="108.30" stroke="#000" stroke-width="1.3" />
<text x="297.80" y="108.20" font-size="7.5" text-anchor="end" font-weight="normal" >0.6</text>
<line x1="303.40" y1="90.40" x2="308.80" y2="90.40" stroke="#000" stroke-width="1.3" />
<text x="297.80" y="90.30" font-size="7.5" text-anchor="end" font-weight="normal" >0.8</text>
<line x1="303.40" y1="72.50" x2="308.80" y2="72.50" stroke="#000" stroke-width="1.3" />
<text x="297.80" y="72.40" font-size="7.5" text-anchor="end" font-weight="normal" >1</text>
<line x1="303.40" y1="54.60" x2="308.80" y2="54.60" stroke="#000" stroke-width="1.3" />
<text x="297.80" y="54.50" font-size="7.5" text-anchor="end" font-weight="normal" >1.2</text>
<line x1="303.40" y1="36.70" x2="308.80" y2="36.70" stroke="#000" stroke-width="1.3" />
<text x="297.80" y="36.60" font-size="7.5" text-anchor="end" font-weight="normal" >1.4</text>
<line x1="308.80" y1="162.00" x2="308.80" y2="167.50" stroke="#000" stroke-width="1.4" />
<text x="308.75" y="174.60" font-size="7.5" text-anchor="middle" font-weight="normal" >0.001</text>
<line x1="360.05" y1="162.00" x2="360.05" y2="167.50" stroke="#000" stroke-width="1.4" />
<text x="360.00" y="174.60" font-size="7.5" text-anchor="middle" font-weight="normal" >0.01</text>
<line x1="411.30" y1="162.00" x2="411.30" y2="167.50" stroke="#000" stroke-width="1.4" />
<text x="411.00" y="174.60" font-size="7.5" text-anchor="middle" font-weight="normal" >0.1</text>
<line x1="462.55" y1="162.00" x2="462.55" y2="167.50" stroke="#000" stroke-width="1.4" />
<text x="462.00" y="174.60" font-size="7.5" text-anchor="middle" font-weight="normal" >1</text>
<line x1="513.80" y1="162.00" x2="513.80" y2="167.50" stroke="#000" stroke-width="1.4" />
<text x="511.90" y="174.60" font-size="7.5" text-anchor="middle" font-weight="normal" >10</text>
<text x="0" y="0" font-size="10.100" font-weight="normal" transform="translate(377.96,195.30) scale(1.004,1)">IL-3 ng/mL</text>
<text x="0" y="0" font-size="10.100" font-weight="normal" transform="translate(277.20,141.04) rotate(-90) scale(1.009,1)">Metabolic activity</text>
<line x1="313.10" y1="46.50" x2="337.30" y2="46.50" stroke="#000" stroke-width="1.6" />
<rect x="321.05" y="43.75" width="5.5" height="5.5" fill="#000"/>
<line x1="313.10" y1="57.60" x2="337.30" y2="57.60" stroke="#000" stroke-width="1.6" />
<path d="M324.20 53.85L327.95 57.60L324.20 61.35L320.45 57.60Z" fill="#000"/>
<text x="0" y="0" font-size="7.300" font-weight="normal" transform="translate(340.21,44.50) scale(1.061,1)">+Tet</text>
<text x="0" y="0" font-size="7.300" font-weight="normal" transform="translate(341.95,55.30) scale(1.077,1)">-Tet</text>
<text x="0" y="0" font-size="10.000" font-weight="normal" transform="translate(363.26,46.30) scale(1.016,1)">Empty vector</text>
<line x1="462.30" y1="51.50" x2="462.30" y2="70.80" stroke="#000" stroke-width="1.4" />
<line x1="459.30" y1="51.50" x2="465.30" y2="51.50" stroke="#000" stroke-width="1.4" />
<line x1="459.30" y1="70.80" x2="465.30" y2="70.80" stroke="#000" stroke-width="1.4" />
<polyline points="323.30,126.30 339.20,117.70 354.60,114.20 370.00,97.50 385.40,94.20 401.50,86.00 416.20,83.30 432.50,78.50 446.90,70.40 462.30,64.60 478.70,58.30" fill="none" stroke="#000" stroke-width="1.7" stroke-linejoin="round"/>
<rect x="320.05" y="123.05" width="6.5" height="6.5" fill="#000"/>
<rect x="335.95" y="114.45" width="6.5" height="6.5" fill="#000"/>
<rect x="351.35" y="110.95" width="6.5" height="6.5" fill="#000"/>
<rect x="366.75" y="94.25" width="6.5" height="6.5" fill="#000"/>
<rect x="382.15" y="90.95" width="6.5" height="6.5" fill="#000"/>
<rect x="398.25" y="82.75" width="6.5" height="6.5" fill="#000"/>
<rect x="412.95" y="80.05" width="6.5" height="6.5" fill="#000"/>
<rect x="429.25" y="75.25" width="6.5" height="6.5" fill="#000"/>
<rect x="443.65" y="67.15" width="6.5" height="6.5" fill="#000"/>
<rect x="459.05" y="61.35" width="6.5" height="6.5" fill="#000"/>
<rect x="475.45" y="55.05" width="6.5" height="6.5" fill="#000"/>
<polyline points="323.30,130.80 339.20,125.40 354.60,117.30 370.00,101.90 385.80,101.30 401.50,86.00 416.20,80.00 432.50,78.50 446.90,70.40 462.30,60.20 478.70,68.50" fill="none" stroke="#000" stroke-width="1.7" stroke-linejoin="round"/>
<path d="M323.30 126.80L327.30 130.80L323.30 134.80L319.30 130.80Z" fill="#000"/>
<path d="M339.20 121.40L343.20 125.40L339.20 129.40L335.20 125.40Z" fill="#000"/>
<path d="M354.60 113.30L358.60 117.30L354.60 121.30L350.60 117.30Z" fill="#000"/>
<path d="M370.00 97.90L374.00 101.90L370.00 105.90L366.00 101.90Z" fill="#000"/>
<path d="M385.80 97.30L389.80 101.30L385.80 105.30L381.80 101.30Z" fill="#000"/>
<path d="M401.50 82.00L405.50 86.00L401.50 90.00L397.50 86.00Z" fill="#000"/>
<path d="M416.20 76.00L420.20 80.00L416.20 84.00L412.20 80.00Z" fill="#000"/>
<path d="M432.50 74.50L436.50 78.50L432.50 82.50L428.50 78.50Z" fill="#000"/>
<path d="M446.90 66.40L450.90 70.40L446.90 74.40L442.90 70.40Z" fill="#000"/>
<path d="M462.30 56.20L466.30 60.20L462.30 64.20L458.30 60.20Z" fill="#000"/>
<path d="M478.70 64.50L482.70 68.50L478.70 72.50L474.70 68.50Z" fill="#000"/>
<text x="0" y="0" font-size="28.655" font-weight="bold" transform="translate(273.55,223.00) scale(0.904,1)">E</text>
<line x1="315.00" y1="234.00" x2="513.60" y2="234.00" stroke="#222" stroke-width="1.0" />
<line x1="513.60" y1="234.00" x2="513.60" y2="363.60" stroke="#333" stroke-width="1.0" />
<line x1="315.00" y1="233.50" x2="315.00" y2="364.40" stroke="#000" stroke-width="1.6" />
<line x1="314.20" y1="363.60" x2="514.10" y2="363.60" stroke="#000" stroke-width="1.6" />
<line x1="309.40" y1="363.60" x2="315.00" y2="363.60" stroke="#000" stroke-width="1.1" />
<text x="304.60" y="363.70" font-size="7.5" text-anchor="end" font-weight="normal" >0</text>
<line x1="309.40" y1="345.09" x2="315.00" y2="345.09" stroke="#000" stroke-width="1.1" />
<text x="304.60" y="345.19" font-size="7.5" text-anchor="end" font-weight="normal" >0.2</text>
<line x1="309.40" y1="326.57" x2="315.00" y2="326.57" stroke="#000" stroke-width="1.1" />
<text x="304.60" y="326.67" font-size="7.5" text-anchor="end" font-weight="normal" >0.4</text>
<line x1="309.40" y1="308.06" x2="315.00" y2="308.06" stroke="#000" stroke-width="1.1" />
<text x="304.60" y="308.16" font-size="7.5" text-anchor="end" font-weight="normal" >0.6</text>
<line x1="309.40" y1="289.54" x2="315.00" y2="289.54" stroke="#000" stroke-width="1.1" />
<text x="304.60" y="289.64" font-size="7.5" text-anchor="end" font-weight="normal" >0.8</text>
<line x1="309.40" y1="271.03" x2="315.00" y2="271.03" stroke="#000" stroke-width="1.1" />
<text x="304.60" y="271.13" font-size="7.5" text-anchor="end" font-weight="normal" >1</text>
<line x1="309.40" y1="252.51" x2="315.00" y2="252.51" stroke="#000" stroke-width="1.1" />
<text x="304.60" y="252.61" font-size="7.5" text-anchor="end" font-weight="normal" >1.2</text>
<line x1="309.40" y1="234.00" x2="315.00" y2="234.00" stroke="#000" stroke-width="1.1" />
<text x="304.60" y="234.10" font-size="7.5" text-anchor="end" font-weight="normal" >1.4</text>
<line x1="315.00" y1="363.60" x2="315.00" y2="368.60" stroke="#000" stroke-width="1.1" />
<text x="312.10" y="376.80" font-size="7.5" text-anchor="middle" font-weight="normal" >0.001</text>
<line x1="364.55" y1="363.60" x2="364.55" y2="368.60" stroke="#000" stroke-width="1.1" />
<text x="362.75" y="376.80" font-size="7.5" text-anchor="middle" font-weight="normal" >0.01</text>
<line x1="414.10" y1="363.60" x2="414.10" y2="368.60" stroke="#000" stroke-width="1.1" />
<text x="413.00" y="376.80" font-size="7.5" text-anchor="middle" font-weight="normal" >0.1</text>
<line x1="463.65" y1="363.60" x2="463.65" y2="368.60" stroke="#000" stroke-width="1.1" />
<text x="463.00" y="376.80" font-size="7.5" text-anchor="middle" font-weight="normal" >1</text>
<line x1="513.20" y1="363.60" x2="513.20" y2="368.60" stroke="#000" stroke-width="1.1" />
<text x="512.50" y="376.80" font-size="7.5" text-anchor="middle" font-weight="normal" >10</text>
<text x="0" y="0" font-size="10.000" font-weight="normal" transform="translate(386.38,400.70) scale(0.995,1)">IL-3 ng/mL</text>
<text x="0" y="0" font-size="10.100" font-weight="normal" transform="translate(282.50,351.95) rotate(-90) scale(1.024,1)">Metabolic activity</text>
<line x1="323.00" y1="243.70" x2="347.70" y2="243.70" stroke="#000" stroke-width="1.6" />
<rect x="331.45" y="240.95" width="5.5" height="5.5" fill="#000"/>
<line x1="323.00" y1="254.80" x2="347.70" y2="254.80" stroke="#000" stroke-width="1.6" />
<circle cx="334.60" cy="254.80" r="3.8" fill="#000"/>
<text x="0" y="0" font-size="7.600" font-weight="normal" transform="translate(352.75,241.50) scale(1.036,1)">BaF/3 tTA</text>
<text x="0" y="0" font-size="7.600" font-weight="normal" transform="translate(352.58,254.00) scale(0.987,1)">cTP14Fl</text>
<line x1="448.70" y1="247.60" x2="448.70" y2="260.40" stroke="#000" stroke-width="1.2" stroke-dasharray="2 1"/>
<line x1="445.70" y1="247.60" x2="451.70" y2="247.60" stroke="#000" stroke-width="1.2" stroke-dasharray="2 1"/>
<line x1="445.70" y1="260.40" x2="451.70" y2="260.40" stroke="#000" stroke-width="1.2" stroke-dasharray="2 1"/>
<polyline points="315.00,335.00 329.80,333.50 345.20,328.50 359.20,325.80 374.80,322.80 389.30,317.60 403.40,317.60 418.80,320.40 433.60,324.60 448.70,325.70 463.20,329.90" fill="none" stroke="#000" stroke-width="1.8" stroke-linejoin="round"/>
<circle cx="315.00" cy="335.00" r="4.0" fill="#000"/>
<circle cx="329.80" cy="333.50" r="4.0" fill="#000"/>
<circle cx="345.20" cy="328.50" r="4.0" fill="#000"/>
<circle cx="359.20" cy="325.80" r="4.0" fill="#000"/>
<circle cx="374.80" cy="322.80" r="4.0" fill="#000"/>
<circle cx="389.30" cy="317.60" r="4.0" fill="#000"/>
<circle cx="403.40" cy="317.60" r="4.0" fill="#000"/>
<circle cx="418.80" cy="320.40" r="4.0" fill="#000"/>
<circle cx="433.60" cy="324.60" r="4.0" fill="#000"/>
<circle cx="448.70" cy="325.70" r="4.0" fill="#000"/>
<circle cx="463.20" cy="329.90" r="4.0" fill="#000"/>
<polyline points="315.00,341.50 329.80,339.20 345.20,334.80 359.20,326.50 374.80,315.30 389.00,300.00 403.40,280.50 419.00,262.20 433.60,257.00 448.70,253.80 463.20,255.90" fill="none" stroke="#000" stroke-width="1.8" stroke-linejoin="round"/>
<rect x="311.50" y="338.00" width="7.0" height="7.0" fill="#000"/>
<rect x="326.30" y="335.70" width="7.0" height="7.0" fill="#000"/>
<rect x="341.70" y="331.30" width="7.0" height="7.0" fill="#000"/>
<rect x="355.70" y="323.00" width="7.0" height="7.0" fill="#000"/>
<rect x="371.30" y="311.80" width="7.0" height="7.0" fill="#000"/>
<rect x="385.50" y="296.50" width="7.0" height="7.0" fill="#000"/>
<rect x="399.90" y="277.00" width="7.0" height="7.0" fill="#000"/>
<rect x="415.50" y="258.70" width="7.0" height="7.0" fill="#000"/>
<rect x="430.10" y="253.50" width="7.0" height="7.0" fill="#000"/>
<rect x="445.20" y="250.30" width="7.0" height="7.0" fill="#000"/>
<rect x="459.70" y="252.40" width="7.0" height="7.0" fill="#000"/>
<text x="0" y="0" font-size="28.655" font-weight="bold" transform="translate(272.66,412.10) scale(0.901,1)">F</text>
<line x1="315.60" y1="419.60" x2="513.00" y2="419.60" stroke="#222" stroke-width="1.0" />
<line x1="513.00" y1="419.60" x2="513.00" y2="546.50" stroke="#222" stroke-width="1.1" />
<line x1="315.60" y1="419.60" x2="315.60" y2="547.30" stroke="#111" stroke-width="1.4" />
<line x1="314.80" y1="546.50" x2="513.50" y2="546.50" stroke="#000" stroke-width="1.6" />
<text x="300.00" y="545.10" font-size="7.5" text-anchor="end" font-weight="normal" >0.7</text>
<line x1="312.00" y1="532.75" x2="319.60" y2="532.75" stroke="#000" stroke-width="1.0" />
<text x="300.00" y="531.30" font-size="7.5" text-anchor="end" font-weight="normal" >0.8</text>
<line x1="312.00" y1="519.00" x2="319.60" y2="519.00" stroke="#000" stroke-width="1.0" />
<text x="300.00" y="516.70" font-size="7.5" text-anchor="end" font-weight="normal" >0.9</text>
<line x1="312.00" y1="505.25" x2="319.60" y2="505.25" stroke="#000" stroke-width="1.0" />
<text x="300.00" y="503.70" font-size="7.5" text-anchor="end" font-weight="normal" >1</text>
<line x1="312.00" y1="491.50" x2="319.60" y2="491.50" stroke="#000" stroke-width="1.0" />
<text x="300.00" y="489.10" font-size="7.5" text-anchor="end" font-weight="normal" >1.1</text>
<line x1="312.00" y1="477.75" x2="319.60" y2="477.75" stroke="#000" stroke-width="1.0" />
<text x="300.00" y="475.70" font-size="7.5" text-anchor="end" font-weight="normal" >1.2</text>
<line x1="312.60" y1="464.00" x2="315.60" y2="464.00" stroke="#666" stroke-width="0.8" />
<text x="300.00" y="460.20" font-size="7.5" text-anchor="end" font-weight="normal" >1.3</text>
<line x1="312.60" y1="450.25" x2="315.60" y2="450.25" stroke="#666" stroke-width="0.8" />
<text x="300.00" y="446.30" font-size="7.5" text-anchor="end" font-weight="normal" >1.4</text>
<text x="300.00" y="432.50" font-size="7.5" text-anchor="end" font-weight="normal" >1.5</text>
<text x="300.00" y="417.90" font-size="7.5" text-anchor="end" font-weight="normal" >1.6</text>
<line x1="315.60" y1="546.50" x2="315.60" y2="549.00" stroke="#000" stroke-width="1.0" />
<line x1="414.10" y1="546.50" x2="414.10" y2="549.00" stroke="#000" stroke-width="1.0" />
<text x="315.20" y="560.00" font-size="7.5" text-anchor="middle" font-weight="normal" >0</text>
<text x="412.00" y="558.90" font-size="7.5" text-anchor="middle" font-weight="normal" >10</text>
<text x="505.80" y="553.50" font-size="7.5" text-anchor="middle" font-weight="normal" >1000</text>
<text x="0" y="0" font-size="10.300" font-weight="normal" transform="translate(359.97,571.40) scale(1.006,1)">Tetracycline ng/mL</text>
<text x="0" y="0" font-size="10.100" font-weight="normal" transform="translate(282.10,527.75) rotate(-90) scale(1.022,1)">Metabolic activity</text>
<polyline points="315.90,534.00 365.00,534.40 379.40,534.00 394.50,528.00 408.80,526.20 423.50,527.70 438.10,524.60 457.50,520.00 468.50,514.60 483.50,500.30 498.30,465.50 513.00,440.00" fill="none" stroke="#000" stroke-width="1.9" stroke-linejoin="round"/>
<line x1="408.80" y1="520.80" x2="408.80" y2="530.80" stroke="#000" stroke-width="1.7" />
<line x1="404.00" y1="520.80" x2="413.60" y2="520.80" stroke="#000" stroke-width="1.7" />
<line x1="404.00" y1="530.80" x2="413.60" y2="530.80" stroke="#000" stroke-width="1.7" />
<line x1="423.50" y1="518.00" x2="423.50" y2="537.00" stroke="#000" stroke-width="1.7" />
<line x1="418.70" y1="518.00" x2="428.30" y2="518.00" stroke="#000" stroke-width="1.7" />
<line x1="418.70" y1="537.00" x2="428.30" y2="537.00" stroke="#000" stroke-width="1.7" />
<line x1="438.10" y1="516.50" x2="438.10" y2="532.30" stroke="#000" stroke-width="1.7" />
<line x1="433.30" y1="516.50" x2="442.90" y2="516.50" stroke="#000" stroke-width="1.7" />
<line x1="433.30" y1="532.30" x2="442.90" y2="532.30" stroke="#000" stroke-width="1.7" />
<line x1="457.50" y1="509.50" x2="457.50" y2="530.00" stroke="#000" stroke-width="1.7" />
<line x1="452.70" y1="509.50" x2="462.30" y2="509.50" stroke="#000" stroke-width="1.7" />
<line x1="452.70" y1="530.00" x2="462.30" y2="530.00" stroke="#000" stroke-width="1.7" />
<line x1="468.50" y1="509.50" x2="468.50" y2="518.50" stroke="#000" stroke-width="1.7" />
<line x1="463.70" y1="509.50" x2="473.30" y2="509.50" stroke="#000" stroke-width="1.7" />
<line x1="463.70" y1="518.50" x2="473.30" y2="518.50" stroke="#000" stroke-width="1.7" />
<line x1="483.50" y1="489.20" x2="483.50" y2="511.30" stroke="#000" stroke-width="1.7" />
<line x1="478.70" y1="489.20" x2="488.30" y2="489.20" stroke="#000" stroke-width="1.7" />
<line x1="478.70" y1="511.30" x2="488.30" y2="511.30" stroke="#000" stroke-width="1.7" />
<line x1="498.30" y1="459.70" x2="498.30" y2="471.80" stroke="#000" stroke-width="1.7" />
<line x1="493.50" y1="459.70" x2="503.10" y2="459.70" stroke="#000" stroke-width="1.7" />
<line x1="493.50" y1="471.80" x2="503.10" y2="471.80" stroke="#000" stroke-width="1.7" />
<line x1="513.00" y1="427.80" x2="513.00" y2="451.00" stroke="#000" stroke-width="1.7" />
<line x1="508.20" y1="427.80" x2="517.80" y2="427.80" stroke="#000" stroke-width="1.7" />
<line x1="508.20" y1="451.00" x2="517.80" y2="451.00" stroke="#000" stroke-width="1.7" />
<path d="M315.90 529.35L320.55 534.00L315.90 538.65L311.25 534.00Z" fill="#000"/>
<path d="M365.00 529.75L369.65 534.40L365.00 539.05L360.35 534.40Z" fill="#000"/>
<path d="M379.40 529.35L384.05 534.00L379.40 538.65L374.75 534.00Z" fill="#000"/>
<path d="M394.50 523.35L399.15 528.00L394.50 532.65L389.85 528.00Z" fill="#000"/>
<path d="M408.80 521.55L413.45 526.20L408.80 530.85L404.15 526.20Z" fill="#000"/>
<path d="M423.50 523.05L428.15 527.70L423.50 532.35L418.85 527.70Z" fill="#000"/>
<path d="M438.10 519.95L442.75 524.60L438.10 529.25L433.45 524.60Z" fill="#000"/>
<path d="M457.50 515.35L462.15 520.00L457.50 524.65L452.85 520.00Z" fill="#000"/>
<path d="M468.50 509.95L473.15 514.60L468.50 519.25L463.85 514.60Z" fill="#000"/>
<path d="M483.50 495.65L488.15 500.30L483.50 504.95L478.85 500.30Z" fill="#000"/>
<path d="M498.30 460.85L502.95 465.50L498.30 470.15L493.65 465.50Z" fill="#000"/>
<path d="M513.00 435.35L517.65 440.00L513.00 444.65L508.35 440.00Z" fill="#000"/>
<rect x="319.9" y="445.9" width="127.8" height="19.4" fill="#c6c6c6" stroke="#111" stroke-width="1.6"/>
<rect x="321.5" y="447.3" width="124.6" height="16.6" fill="#bcbcbc"/>
<defs><filter id="sm" x="-20%" y="-50%" width="140%" height="200%"><feGaussianBlur stdDeviation="1.1"/></filter></defs>
<rect x="323" y="447.6" width="12" height="5" rx="2" fill="#999" filter="url(#sm)"/>
<rect x="339" y="447.6" width="11" height="5" rx="2" fill="#a4a4a4" filter="url(#sm)"/>
<rect x="355" y="448.6" width="11" height="4" rx="2" fill="#b0b0b0" filter="url(#sm)"/>
<rect x="322.30" y="451.70" width="12.90" height="7.90" rx="3.50" fill="#1a1a1a"/>
<ellipse cx="328.75" cy="455.65" rx="3.55" ry="1.85" fill="#3c3c3c"/>
<rect x="338.50" y="452.40" width="11.50" height="7.20" rx="3.50" fill="#1e1e1e"/>
<ellipse cx="344.25" cy="456.00" rx="2.85" ry="1.50" fill="#3c3c3c"/>
<rect x="354.70" y="453.80" width="11.50" height="5.40" rx="3.00" fill="#222"/>
<ellipse cx="360.45" cy="456.50" rx="2.85" ry="0.60" fill="#3c3c3c"/>
<rect x="370.10" y="454.80" width="12.20" height="3.50" rx="2.05" fill="#262626"/>
<rect x="387.00" y="455.40" width="11.50" height="2.50" rx="1.55" fill="#2e2e2e"/>
<rect x="401.80" y="455.30" width="10.90" height="2.40" rx="1.50" fill="#333"/>
<rect x="417.30" y="455.30" width="11.50" height="1.40" rx="1.00" fill="#484848"/>
<text x="0" y="0" font-size="8.8" transform="translate(329.20,442.6) rotate(-90)">0</text>
<text x="0" y="0" font-size="8.8" transform="translate(346.00,442.6) rotate(-90)">2</text>
<text x="0" y="0" font-size="8.8" transform="translate(362.70,442.6) rotate(-90)">5</text>
<text x="0" y="0" font-size="8.8" transform="translate(379.40,442.6) rotate(-90)">20</text>
<text x="0" y="0" font-size="8.8" transform="translate(393.70,442.6) rotate(-90)">50</text>
<text x="0" y="0" font-size="8.8" transform="translate(410.20,442.6) rotate(-90)">200</text>
<text x="0" y="0" font-size="8.8" transform="translate(425.70,442.6) rotate(-90)">500</text>
<text x="0" y="0" font-size="8.8" transform="translate(440.70,442.6) rotate(-90)">1000</text>
<text x="0" y="0" font-size="10.000" font-weight="normal" transform="translate(447.62,428.00) scale(1.070,1)">[Tet]</text>
<text x="0" y="0" font-size="10.000" font-weight="normal" transform="translate(447.71,437.50) scale(1.016,1)">ng/mL</text>
</svg>
</body></html>
